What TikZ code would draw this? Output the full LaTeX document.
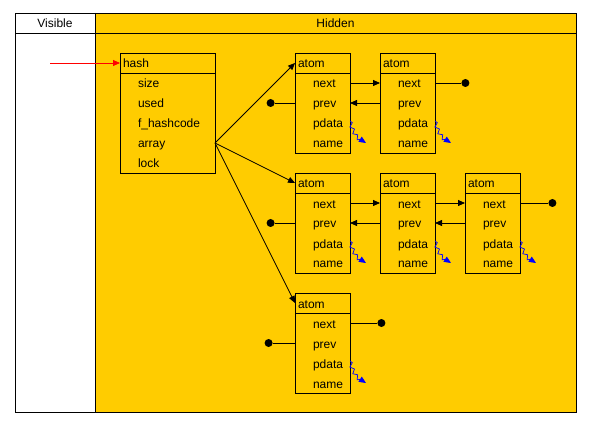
\documentclass[tikz,border=0pt]{standalone}
\usepackage{fontspec}
\setmainfont{Liberation Sans}
\usetikzlibrary{arrows.meta,positioning,decorations.pathmorphing}
\definecolor{hidden}{RGB}{255,204,0}

\tikzset{
  box/.style={draw,text width=55pt,minimum height=20pt,inner sep=0pt,outer sep=0pt,align=left,text height=10pt,text depth=0pt},
  titlebox/.style={box,execute at begin node={\hspace*{3pt}}},
  field/.style={text width=55pt,minimum height=20pt,inner sep=0pt,outer sep=0pt,align=left,text height=10pt,text depth=0pt,execute at begin node={\hspace*{18pt}}},
  dot/.style={circle,fill,inner sep=0pt,minimum size=8pt},
  ptr/.style={blue,line width=0.7pt,->,decorate,decoration={snake,amplitude=1.8pt,segment length=7pt,post length=4pt}},
}

\newcommand\atombox[2]{%
  \node[titlebox,#2] (#1) {atom};
  \node[field,below=0pt of #1] (#1next) {next};
  \node[field,below=0pt of #1next] (#1prev) {prev};
  \node[field,below=0pt of #1prev] (#1pdata) {pdata};
  \node[field,below=0pt of #1pdata] (#1name) {name};
  \draw (#1.south west) rectangle (#1name.south east);
  \coordinate[below right=10pt and 16pt of #1pdata] (#1ptr);
  \draw[ptr] ([yshift=2pt]#1pdata.east) to[out=-75,in=150] (#1ptr);
}

\begin{document}
\begin{tikzpicture}[x=1pt,y=-1pt,line width=0.8pt,>={Triangle[length=7pt,width=6pt]},
  font=\fontsize{12}{14}\selectfont]

\useasboundingbox (0,0) rectangle (595,433);
\fill[hidden] (95,13) rectangle (576,412);
\draw (15,13) rectangle (576,412);
\draw (95,13) -- (95,412);
\draw (15,33) -- (576,33);
\node (vis) at (55,23) {Visible};
\node (hid) at (335.5,23) {Hidden};

\node[titlebox,text width=95pt,anchor=north west] (hash) at (120,53) {hash};
\node[field,text width=95pt,below=0pt of hash] (hsize) {size};
\node[field,text width=95pt,below=0pt of hsize] (hused) {used};
\node[field,text width=95pt,below=0pt of hused] (hcode) {f\_hashcode};
\node[field,text width=95pt,below=0pt of hcode] (harray) {array};
\node[field,text width=95pt,below=0pt of harray] (hlock) {lock};
\draw (hash.south west) rectangle (hlock.south east);
\coordinate[left=70pt of hash] (hin);
\draw[->,red] (hin) -- (hash);

\atombox{a1}{anchor=north west,at={(295,53)}}
\atombox{a2}{right=30pt of a1}
\atombox{a3}{below=100pt of a1}
\atombox{a4}{right=30pt of a3}
\atombox{a5}{right=30pt of a4}
\atombox{a6}{below=100pt of a3}

\draw[->] (harray.east) -- (a1.west);
\draw[->] (harray.east) -- (a3.west);
\draw[->] (harray.east) -- (a6.west);

\node[dot,left=20pt of a1prev] (a1nil) {};
\node[dot,right=26pt of a2next] (a2nil) {};
\node[dot,left=20pt of a3prev] (a3nil) {};
\node[dot,right=28pt of a5next] (a5nil) {};
\node[dot,left=22pt of a6prev] (a6pnil) {};
\node[dot,right=27pt of a6next] (a6nnil) {};

\draw[->] (a1next) -- (a2next);
\draw[->] (a2prev) -- (a1prev);
\draw[->] (a3next) -- (a4next);
\draw[->] (a4prev) -- (a3prev);
\draw[->] (a4next) -- (a5next);
\draw[->] (a5prev) -- (a4prev);
\draw (a1prev) -- (a1nil);
\draw (a2next) -- (a2nil);
\draw (a3prev) -- (a3nil);
\draw (a5next) -- (a5nil);
\draw (a6prev) -- (a6pnil);
\draw (a6next) -- (a6nnil);

\end{tikzpicture}
\end{document}
